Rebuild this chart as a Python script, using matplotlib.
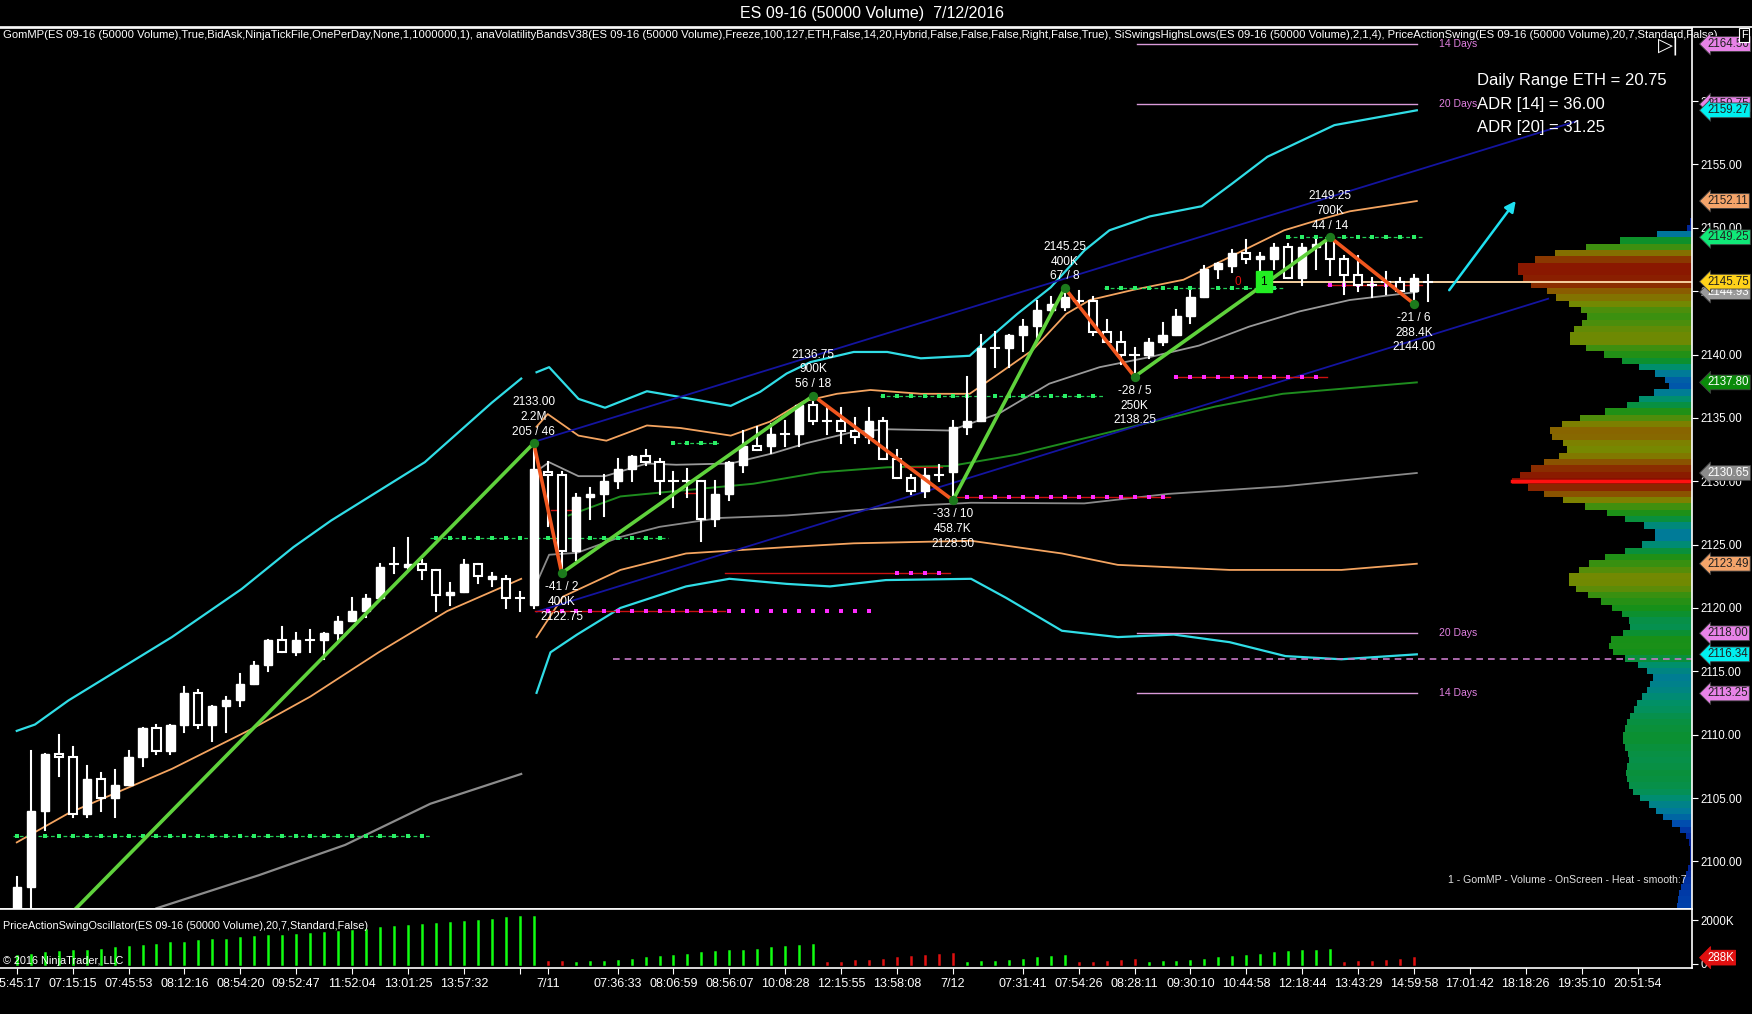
import numpy as np
import matplotlib.pyplot as plt
import matplotlib.transforms as mtrans
from matplotlib.patches import Rectangle
from matplotlib.colors import LinearSegmentedColormap

plt.rcParams['font.family'] = ['Liberation Sans', 'DejaVu Sans']
NARROW = ['Liberation Sans Narrow', 'Liberation Sans', 'DejaVu Sans']

# ---- candles (bar index 0..101) ----
opens = [2096.25, 2098.0, 2104.0, 2108.5, 2108.25, 2103.75, 2106.5, 2105.0, 2106.0, 2108.25,
         2110.5, 2108.75, 2110.75, 2113.25, 2110.75, 2112.25, 2112.75, 2114.0, 2115.5, 2117.5,
         2116.5, 2117.5, 2117.5, 2118.0, 2119.0, 2119.75, 2120.75, 2123.5, 2123.25, 2123.5,
         2123.0, 2121.0, 2121.25, 2123.5, 2122.25, 2122.25, 2120.75, 2120.25, 2130.75, 2130.5,
         2124.5, 2128.75, 2129.0, 2130.0, 2131.0, 2132.0, 2131.5, 2130.0, 2130.0, 2130.0,
         2127.0, 2129.0, 2131.25, 2132.75, 2132.75, 2133.75, 2133.75, 2136.0, 2134.75, 2134.75,
         2134.0, 2133.5, 2134.75, 2131.75, 2130.25, 2129.25, 2130.5, 2130.75, 2134.25, 2134.75,
         2140.5, 2140.5, 2141.5, 2142.25, 2143.5, 2143.75, 2144.25, 2144.25, 2141.75, 2141.0,
         2140.0, 2140.0, 2141.0, 2141.5, 2143.0, 2144.5, 2146.75, 2147.0, 2148.0, 2147.5,
         2147.5, 2148.5, 2146.0, 2148.5, 2149.0, 2147.5, 2146.25, 2145.5, 2145.75, 2145.75,
         2145.0, 2145.75]
highs = [2098.75, 2108.75, 2108.5, 2110.0, 2109.0, 2107.5, 2107.0, 2107.25, 2108.75, 2110.5,
         2110.75, 2110.75, 2113.75, 2113.5, 2112.25, 2113.0, 2114.75, 2115.75, 2117.5, 2118.5,
         2118.0, 2118.25, 2118.0, 2119.25, 2120.75, 2121.0, 2123.5, 2124.75, 2125.5, 2123.75,
         2123.0, 2122.0, 2123.75, 2123.5, 2122.75, 2122.5, 2121.25, 2133.0, 2131.5, 2130.75,
         2129.0, 2129.5, 2130.5, 2131.75, 2132.0, 2132.5, 2131.75, 2130.75, 2131.0, 2130.0,
         2130.0, 2131.5, 2134.0, 2134.25, 2134.5, 2134.75, 2136.0, 2136.75, 2135.75, 2135.75,
         2135.0, 2135.75, 2135.0, 2132.5, 2130.5, 2131.0, 2131.25, 2134.75, 2138.25, 2141.5,
         2141.75, 2141.5, 2142.75, 2144.25, 2144.5, 2145.25, 2145.0, 2144.5, 2142.75, 2141.75,
         2140.5, 2141.25, 2142.5, 2143.5, 2145.0, 2147.0, 2147.25, 2148.25, 2149.0, 2148.0,
         2148.75, 2148.75, 2148.75, 2149.0, 2149.25, 2147.75, 2147.75, 2146.0, 2146.5, 2146.0,
         2146.25, 2146.25]
lows = [2096.0, 2096.0, 2102.5, 2106.75, 2103.5, 2103.5, 2104.0, 2103.5, 2106.0, 2107.5,
        2108.5, 2108.5, 2110.25, 2110.5, 2109.5, 2110.25, 2112.25, 2114.0, 2115.0, 2116.5,
        2116.25, 2116.5, 2116.0, 2117.5, 2119.0, 2119.25, 2120.75, 2122.75, 2123.0, 2122.25,
        2119.75, 2120.25, 2121.25, 2122.0, 2121.75, 2120.0, 2119.75, 2120.0, 2126.5, 2122.75,
        2123.75, 2127.0, 2127.25, 2129.5, 2130.0, 2131.25, 2129.0, 2128.0, 2128.75, 2125.25,
        2126.5, 2128.5, 2130.75, 2132.5, 2132.25, 2132.75, 2132.75, 2134.5, 2133.75, 2133.0,
        2133.0, 2133.0, 2131.75, 2130.25, 2129.0, 2128.75, 2130.0, 2128.5, 2133.75, 2134.75,
        2139.0, 2139.0, 2140.25, 2141.25, 2143.25, 2143.5, 2143.75, 2141.5, 2141.0, 2139.25,
        2138.25, 2139.75, 2140.75, 2141.5, 2142.5, 2144.5, 2146.0, 2146.5, 2147.25, 2145.5,
        2146.75, 2146.0, 2145.5, 2146.75, 2146.25, 2144.75, 2145.0, 2144.5, 2144.75, 2145.0,
        2144.0, 2144.25]
closes = [2098.0, 2104.0, 2108.5, 2108.25, 2103.75, 2106.5, 2105.0, 2106.0, 2108.25, 2110.5,
          2108.75, 2110.75, 2113.25, 2110.75, 2112.25, 2112.75, 2114.0, 2115.5, 2117.5, 2116.5,
          2117.5, 2117.5, 2118.0, 2119.0, 2119.75, 2120.75, 2123.25, 2123.5, 2123.5, 2123.0,
          2121.0, 2121.25, 2123.5, 2122.5, 2122.5, 2120.75, 2120.75, 2131.0, 2130.5, 2124.5,
          2128.75, 2129.0, 2130.0, 2131.0, 2132.0, 2131.5, 2130.0, 2130.0, 2130.0, 2127.0,
          2129.0, 2131.5, 2132.75, 2132.5, 2133.75, 2133.75, 2136.0, 2134.75, 2134.75, 2134.0,
          2133.5, 2134.75, 2131.75, 2130.25, 2129.25, 2130.5, 2130.5, 2134.25, 2134.75, 2140.5,
          2140.5, 2141.5, 2142.25, 2143.5, 2144.0, 2144.5, 2144.25, 2141.75, 2141.0, 2140.0,
          2140.0, 2141.0, 2141.5, 2143.0, 2144.5, 2146.75, 2147.25, 2148.0, 2147.5, 2147.75,
          2148.5, 2146.0, 2148.5, 2148.75, 2147.5, 2146.25, 2145.5, 2145.5, 2145.75, 2145.0,
          2146.0, 2145.75]

# ---- band lines ----
cyan_d1_x = [0, 1.3, 3.7, 7.4, 11.1, 16.1, 19.8, 22.5, 29.2, 34.0, 36.1]
cyan_d1_y = [2110.3, 2110.8, 2112.7, 2115.2, 2117.7, 2121.5, 2124.8, 2126.9, 2131.5, 2136.2, 2138.1]
orange_d1_x = [0, 3.7, 11.1, 16.9, 21.0, 25.9, 30.8, 36.1]
orange_d1_y = [2101.5, 2103.8, 2107.3, 2110.5, 2113.0, 2116.5, 2119.75, 2122.3]
grey_d1_x = [10.0, 17.3, 23.5, 29.6, 36.1]
grey_d1_y = [2096.3, 2098.9, 2101.3, 2104.55, 2106.9]

cyan_up_x = [37.2, 38.1, 40.2, 42.1, 45.1, 47.2, 51.1, 53.2, 55.1, 56.8, 59.9, 62.3, 64.7, 68.2,
             69.2, 71.6, 74.0, 76.4, 78.2, 81.1, 84.8, 87.0, 89.5, 94.3, 100.2]
cyan_up_y = [2138.6, 2139.0, 2136.5, 2135.8, 2137.1, 2136.7, 2135.95, 2137.05, 2138.5, 2139.4,
             2140.2, 2140.2, 2139.7, 2139.9, 2140.9, 2143.2, 2145.3, 2148.2, 2149.8, 2150.9,
             2151.7, 2153.5, 2155.6, 2158.1, 2159.27]
cyan_lo_x = [37.2, 38.2, 40.1, 43.2, 47.9, 51.0, 55.1, 58.2, 62.2, 68.3, 70.8, 74.8, 78.8, 82.8,
             86.8, 90.8, 94.8, 100.2]
cyan_lo_y = [2113.3, 2116.5, 2117.9, 2120.0, 2121.7, 2122.3, 2121.9, 2121.7, 2122.2, 2122.3,
             2120.8, 2118.2, 2117.7, 2117.9, 2117.3, 2116.2, 2115.95, 2116.34]
orange_up_x = [37.2, 38.0, 40.2, 42.2, 45.1, 47.5, 51.1, 53.9, 56.3, 58.7, 61.1, 64.7, 68.2,
               70.3, 72.7, 75.1, 76.8, 79.9, 83.5, 85.9, 88.3, 90.7, 93.1, 95.4, 100.2]
orange_up_y = [2134.3, 2135.3, 2133.6, 2133.2, 2134.4, 2134.2, 2133.6, 2134.7, 2136.3, 2136.9,
               2137.2, 2136.9, 2136.9, 2138.5, 2140.35, 2143.2, 2144.3, 2145.1, 2145.9, 2147.2,
               2148.5, 2149.8, 2150.6, 2151.3, 2152.11]
orange_lo_x = [37.2, 39.1, 43.2, 47.9, 55.1, 59.9, 68.3, 74.8, 78.8, 86.8, 94.8, 100.2]
orange_lo_y = [2117.7, 2120.9, 2123.0, 2124.3, 2124.8, 2125.1, 2125.3, 2124.3, 2123.4, 2123.0,
               2123.0, 2123.49]
grey_up_x = [37.2, 38.1, 40.2, 42.1, 45.1, 47.2, 51.1, 54.1, 56.5, 59.9, 62.3, 66.8, 70.3,
             73.9, 77.5, 81.1, 84.6, 88.2, 91.8, 95.4, 100.2]
grey_up_y = [2130.8, 2131.5, 2130.4, 2130.4, 2131.4, 2131.3, 2131.4, 2132.2, 2133.0, 2133.9,
             2134.1, 2134.0, 2135.35, 2137.7, 2139.0, 2139.8, 2140.7, 2142.2, 2143.4, 2144.3,
             2144.93]
grey_lo_x = [37.3, 38.1, 40.1, 43.2, 46.0, 50.3, 55.1, 59.9, 64.7, 68.3, 76.4, 82.4, 90.7, 100.2]
grey_lo_y = [2122.2, 2124.2, 2124.35, 2125.6, 2126.4, 2127.1, 2127.3, 2127.7, 2128.1, 2128.3,
             2128.25, 2129.0, 2129.6, 2130.65]
dgreen_x = [39.5, 43.2, 47.9, 52.7, 57.5, 62.3, 66.8, 71.6, 78.7, 85.8, 90.6, 100.2]
dgreen_y = [2127.3, 2128.8, 2129.3, 2129.8, 2130.7, 2131.1, 2131.2, 2132.1, 2134.0, 2135.9,
            2136.9, 2137.8]

# trend channel (navy)
chan_up = ([37.0, 111.6], [2133.1, 2158.4])
chan_lo = ([37.2, 109.6], [2119.7, 2144.4])

# swing zigzag
swing_x = [3, 37, 39, 57, 67, 75, 80, 94, 100]
swing_y = [2094.9, 2133.0, 2122.75, 2136.75, 2128.5, 2145.25, 2138.25, 2149.25, 2144.0]
swing_txt = ['', '2133.00\n2.2M\n205 / 46', '-41 / 2\n400K\n2122.75', '2136.75\n900K\n56 / 18',
             '-33 / 10\n458.7K\n2128.50', '2145.25\n400K\n67 / 8', '-28 / 5\n250K\n2138.25',
             '2149.25\n700K\n44 / 14', '-21 / 6\n288.4K\n2144.00']

# level lines: (price, x start, x end)
green_levels = [(2102.0, -0.3, 29.6), (2125.5, 29.6, 46.6), (2133.0, 46.8, 50.4),
                (2136.75, 61.8, 77.8), (2145.25, 77.8, 90.7), (2149.25, 90.9, 100.6)]
magenta_levels = [(2119.75, 37.1, 61.7), (2122.75, 62.2, 66.8), (2128.75, 67.1, 82.5),
                  (2138.25, 82.8, 93.8), (2145.5, 93.8, 100.6)]
red_levels = [(2119.75, 37.1, 50.7), (2122.75, 50.7, 66.8), (2128.75, 66.8, 82.5),
              (2138.25, 82.8, 93.8), (2145.5, 93.8, 100.6), (2131.1, 63.6, 66.2),
              (2129.1, 47.8, 49.0), (2127.7, 38.2, 40.0)]
adr_levels = [(2164.5, '14 Days'), (2159.75, '20 Days'), (2118.0, '20 Days'), (2113.25, '14 Days')]

# volume profile (top 2150.5, step 0.5 downward)
prof_w = [5, 15, 105, 215, 318, 410, 471, 522, 522, 508, 482, 435, 407, 370, 333, 315, 330, 353,
          365, 367, 318, 265, 210, 160, 110, 80, 70, 115, 160, 195, 260, 335, 390, 425, 420, 388,
          375, 400, 445, 482, 515, 540, 493, 445, 388, 320, 255, 200, 145, 110, 110, 150, 200,
          260, 310, 340, 370, 368, 348, 312, 272, 240, 210, 190, 185, 208, 243, 248, 236, 200,
          162, 135, 117, 125, 135, 150, 165, 175, 186, 196, 202, 207, 208, 200, 192, 188, 194,
          199, 196, 188, 178, 155, 128, 108, 87, 60, 35, 18, 8, 5, 5, 7, 11, 18, 26, 33, 40,
          43, 45]
prof_top = 2150.5

# oscillator (K), sign gives colour: + green, - red
osc_vals = [380, 425, 485, 530, 575, 605, 650, 710, 760, 805, 865, 940, 955, 1030, 1090, 1105,
            1165, 1210, 1255, 1290, 1335, 1365, 1410, 1470, 1515, 1545, 1635, 1695, 1740, 1790,
            1820, 1850, 1895, 1970, 2015, 2075, 2120, 2150,
            -75, -75,
            45, 75, 105, 150, 195, 260, 305, 380, 425, 500, 530, 575, 605, 650, 710, 760, 805, 865,
            -45, -45, -120, -150, -195, -260, -305, -380, -410, -455,
            45, 75, 105, 150, 195, 260, 305, 380,
            -30, -45, -105, -150, -195,
            45, 75, 105, 150, 195, 260, 305, 380, 425, 500, 530, 575, 605, 650,
            -30, -75, -105, -150, -195, -288]

tick_pos = [0, 4, 8, 12, 16, 20, 24, 28, 32, 36, 38, 43, 47, 51, 55, 59, 63, 67, 72, 76, 80,
            84, 88, 92, 96, 100, 104, 108, 112, 116]
tick_lab = ['05:45:17', '07:15:15', '07:45:53', '08:12:16', '08:54:20', '09:52:47', '11:52:04',
            '13:01:25', '13:57:32', '', '7/11', '07:36:33', '08:06:59', '08:56:07', '10:08:28',
            '12:15:55', '13:58:08', '7/12', '07:31:41', '07:54:26', '08:28:11', '09:30:10',
            '10:44:58', '12:18:44', '13:43:29', '14:59:58', '17:01:42', '18:18:26', '19:35:10',
            '20:51:54']

tags = [(2164.50, '#e783e7', '#202020'), (2159.75, '#e783e7', '#202020'),
        (2159.27, '#00f0f0', '#202020'), (2152.11, '#f4a46a', '#202020'),
        (2149.25, '#10e878', '#202020'), (2144.93, '#9a9a9a', '#ffffff'),
        (2145.75, '#ffd21a', '#202020'), (2137.80, '#0a8a0a', '#ffffff'),
        (2130.65, '#8a8a8a', '#ffffff'), (2123.49, '#f4a46a', '#202020'),
        (2118.00, '#e783e7', '#202020'), (2116.34, '#00f0f0', '#202020'),
        (2113.25, '#e783e7', '#202020')]

XL = (-1.2, 119.9)

fig = plt.figure(figsize=(17.52, 10.14), dpi=100, facecolor='black')
ax = fig.add_axes([0, 0.104, 0.9658, 0.8687], facecolor='black')
osc = fig.add_axes([0, 0.0454, 0.9658, 0.0586], facecolor='black')
ax.set_xlim(*XL)
ax.set_ylim(2096.28, 2165.79)
osc.set_xlim(*XL)
osc.set_ylim(-182, 2523)

# volume profile
cmap = LinearSegmentedColormap.from_list('heat', [(0.0, '#001a90'), (0.1, '#0048b0'),
    (0.2, '#007a9a'), (0.3, '#00906a'), (0.42, '#10901a'), (0.58, '#3a9010'),
    (0.7, '#7a8800'), (0.8, '#8a6000'), (0.9, '#8a2a00'), (1.0, '#8a1000')])
pw = np.array(prof_w, dtype=float)
pp = prof_top - 0.5 * np.arange(len(pw))
pscale = 12.9 / pw.max()
ax.barh(pp, pw * pscale, height=0.5, left=XL[1] - pw * pscale,
        color=cmap(pw / pw.max()), linewidth=0, zorder=1)
ax.plot([XL[1] - pw.max() * pscale, XL[1]], [2130.0, 2130.0], color='#ff1010', lw=2.5, zorder=1.5)

# bands
ax.plot(cyan_d1_x, cyan_d1_y, color='#30dde6', lw=1.6, zorder=2)
ax.plot(orange_d1_x, orange_d1_y, color='#f4a460', lw=1.3, zorder=2)
ax.plot(grey_d1_x, grey_d1_y, color='#8c8c8c', lw=1.6, zorder=2)
ax.plot(cyan_up_x, cyan_up_y, color='#30dde6', lw=1.6, zorder=2)
ax.plot(cyan_lo_x, cyan_lo_y, color='#30dde6', lw=1.6, zorder=2)
ax.plot(orange_up_x, orange_up_y, color='#f4a460', lw=1.3, zorder=2)
ax.plot(orange_lo_x, orange_lo_y, color='#f4a460', lw=1.3, zorder=2)
ax.plot(grey_up_x, grey_up_y, color='#9a9a9a', lw=1.3, zorder=2)
ax.plot(grey_lo_x, grey_lo_y, color='#8a8a8a', lw=1.3, zorder=2)
ax.plot(dgreen_x, dgreen_y, color='#1e8c1e', lw=1.4, zorder=2)
ax.plot(*chan_up, color='#1414a0', lw=1.3, zorder=2)
ax.plot(*chan_lo, color='#1414a0', lw=1.3, zorder=2)

# adr lines
for y, lab in adr_levels:
    ax.plot([80.2, 100.2], [y, y], color='#d99ad9', lw=1.0, zorder=2)
    ax.text(101.8, y, lab, color='#e080e0', fontsize=7.5, va='center', ha='left', family=NARROW)
ax.plot([42.7, XL[1]], [2116.0, 2116.0], color='#c77ac7', lw=1.2, ls=(0, (4, 3)), zorder=2)

# levels
for y, x0, x1 in red_levels:
    ax.plot([x0, x1], [y, y], color='#cc1010', lw=1.0, zorder=2.2)
for y, x0, x1 in green_levels:
    ax.plot([x0, x1], [y, y], color='#22cc55', lw=0.9, ls=(0, (3, 2)), zorder=2.2)
    xs = np.arange(np.ceil(x0), x1 + 0.01, 1.0)
    ax.scatter(xs, [y] * len(xs), marker='s', s=12, color='#2aee66', lw=0, zorder=2.3)
for y, x0, x1 in magenta_levels:
    xs = np.arange(np.ceil(x0), x1 + 0.01, 1.0)
    ax.scatter(xs, [y] * len(xs), marker='s', s=12, color='#ff2cff', lw=0, zorder=2.3)

# last price line
ax.plot([89.7, XL[1]], [2145.75, 2145.75], color='#f5d0a0', lw=1.4, zorder=2.4)

# candles
for i in range(len(opens)):
    o, h, l, c = opens[i], highs[i], lows[i], closes[i]
    ax.plot([i, i], [l, h], color='white', lw=1.5, zorder=3)
    if c == o:
        ax.plot([i - 0.3, i + 0.3], [c, c], color='white', lw=1.5, zorder=3.1)
    elif c > o:
        ax.add_patch(Rectangle((i - 0.29, o), 0.58, c - o, fc='white', ec='white', lw=1.0, zorder=3.1))
    else:
        ax.add_patch(Rectangle((i - 0.29, c), 0.58, o - c, fc='black', ec='white', lw=1.5, zorder=3.1))

# swing zigzag
for k in range(len(swing_x) - 1):
    up = swing_y[k + 1] > swing_y[k]
    ax.plot(swing_x[k:k + 2], swing_y[k:k + 2], color='#5fd23c' if up else '#f0561e',
            lw=2.6, zorder=3.5, solid_capstyle='round')
ax.scatter(swing_x[1:], swing_y[1:], s=45, color='#1c7a1c', zorder=3.6, lw=0)
for k in range(1, len(swing_x)):
    hi = swing_y[k] > swing_y[k - 1]
    ax.text(swing_x[k], swing_y[k] + (0.45 if hi else -0.65), swing_txt[k], color='white',
            fontsize=8.6, ha='center', va='bottom' if hi else 'top', linespacing=1.3, zorder=4)

ax.text(87.4, 2145.75, '0', color='#e01010', fontsize=8.5, ha='center', va='center', zorder=4)
ax.text(89.25, 2145.75, '1', color='black', fontsize=8.5, ha='center', va='center', zorder=4,
        bbox=dict(boxstyle='square,pad=0.4', fc='#22ee22', ec='#22ee22'))

ax.annotate('', xy=(107.4, 2152.3), xytext=(102.4, 2144.9),
            arrowprops=dict(arrowstyle='-|>', color='#1ee0f0', lw=1.8, mutation_scale=16), zorder=4)

# texts
hdr = ax.text(0.002, 0.9915, 'GomMP(ES 09-16 (50000 Volume),True,BidAsk,NinjaTickFile,OnePerDay,None,1,1000000,1), '
              'anaVolatilityBandsV38(ES 09-16 (50000 Volume),Freeze,100,127,ETH,False,14,20,Hybrid,False,False,'
              'False,Right,False,True), SiSwingsHighsLows(ES 09-16 (50000 Volume),2,1,4), PriceActionSwing(ES '
              '09-16 (50000 Volume),20,7,Standard,False)', transform=ax.transAxes, color='white',
              fontsize=8.1, va='center', ha='left', family=NARROW, zorder=5)
hdr.set_clip_path(ax.patch)
for y, s in [(2161.64, 'Daily Range ETH = 20.75'), (2159.75, 'ADR [14] = 36.00'),
             (2157.93, 'ADR [20] = 31.25')]:
    ax.text(104.5, y, s, color='white', fontsize=12, va='center', ha='left', family=NARROW, zorder=5)
ax.text(0.9965, 2098.57, '1 - GomMP - Volume - OnScreen - Heat - smooth:7', color='#e0e0e0',
        fontsize=7.6, ha='right', va='center', transform=mtrans.blended_transform_factory(ax.transAxes, ax.transData))
fig.text(0.498, 0.987, 'ES 09-16 (50000 Volume)  7/12/2016', color='white', fontsize=11.5,
         ha='center', va='center', family=NARROW)
fig.text(0.9955, 0.9655, 'F', color='white', fontsize=8, ha='center', va='center',
         bbox=dict(boxstyle='square,pad=0.15', fc='black', ec='white', lw=0.8))
fig.text(0.9525, 0.955, '\u25b7|', color='white', fontsize=14, ha='center', va='center',
         family=['DejaVu Sans'])
fig.add_artist(plt.Line2D([0, 1], [0.9729, 0.9729], color='white', lw=1.2))

# oscillator
ov = np.array(osc_vals, dtype=float)
for i, v in enumerate(ov):
    osc.plot([i, i], [0, abs(v)], color='#10ff10' if v > 0 else '#e01010', lw=1.8)
osc.text(0.002, 0.70, 'PriceActionSwingOscillator(ES 09-16 (50000 Volume),20,7,Standard,False)',
         transform=osc.transAxes, color='white', fontsize=7.8, va='center', family=NARROW)
osc.text(0.002, 0.12, '\u00a9 2016 NinjaTrader, LLC', transform=osc.transAxes, color='white',
         fontsize=7.8, va='center', family=NARROW)

# axes styling
for a in (ax, osc):
    a.spines['left'].set_visible(False)
    for sp in ('top', 'right', 'bottom'):
        a.spines[sp].set_color('white')
        a.spines[sp].set_linewidth(1.2)
    a.yaxis.tick_right()
    a.tick_params(axis='y', colors='white', direction='out', length=4, labelsize=8.3, pad=2)

ax.tick_params(axis='x', bottom=False, labelbottom=False)
ax.set_yticks(np.arange(2100, 2165, 5))
ax.set_yticklabels(['%.2f' % v for v in np.arange(2100, 2165, 5)])
osc.set_yticks([0, 2000])
osc.set_yticklabels(['0', '2000K'])
osc.set_xticks(tick_pos)
osc.set_xticklabels(tick_lab)
osc.tick_params(axis='x', colors='white', direction='out', length=4, labelsize=9, pad=3)
for lab in osc.get_xticklabels():
    lab.set_fontfamily(NARROW)

bt = mtrans.blended_transform_factory(ax.transAxes, ax.transData)
for y, fc, tc in tags:
    ax.text(1.009, y, '%.2f' % y, transform=bt, color=tc, fontsize=8.3, va='center', ha='left',
            clip_on=False, zorder=10,
            bbox=dict(boxstyle='larrow,pad=0.12', fc=fc, ec='#404040', lw=0.6))
osc.text(1.009, 288, '288K', transform=mtrans.blended_transform_factory(osc.transAxes, osc.transData),
         color='white', fontsize=8.3, va='center', ha='left', clip_on=False, zorder=10,
         bbox=dict(boxstyle='larrow,pad=0.12', fc='#e01010', ec='#e01010', lw=0.6))

fig.savefig('out.png', dpi=100, facecolor='black')
